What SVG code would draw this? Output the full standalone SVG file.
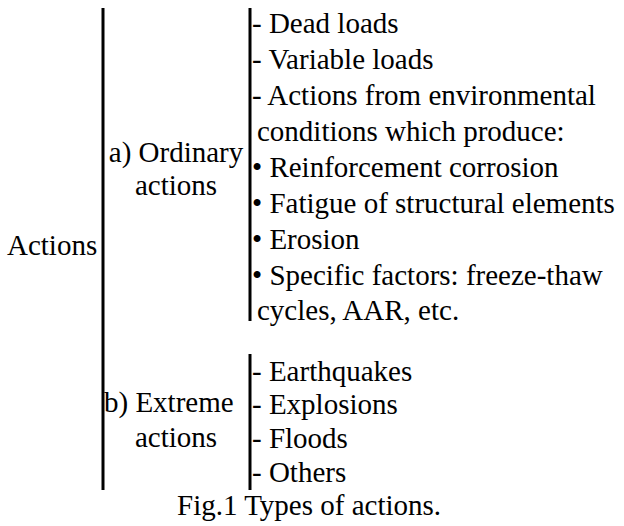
<svg xmlns="http://www.w3.org/2000/svg" width="624" height="526" viewBox="0 0 624 526">
<style>
text{font-family:"Liberation Serif","Times New Roman","DejaVu Serif",serif;font-size:29px;fill:#000;font-style:normal;font-weight:normal}
.bar{stroke:#000;stroke-width:3;fill:none}
</style>
<rect width="624" height="526" fill="#fff"/>
<g id="connectors">
<line class="bar" x1="103" y1="8" x2="103" y2="490"/>
<line class="bar" x1="250" y1="8" x2="250" y2="321"/>
<line class="bar" x1="250" y1="354" x2="250" y2="490"/>
</g>
<g id="root"><text x="7" y="255">Actions</text></g>
<g id="ordinary"><text x="176" y="162" text-anchor="middle">a) Ordinary</text><text x="176" y="195" text-anchor="middle">actions</text></g>
<g id="extreme"><text x="104" y="412">b) Extreme</text><text x="176" y="447" text-anchor="middle">actions</text></g>
<g id="ordinary-list">
<text x="252" y="33">- Dead loads</text>
<text x="252" y="69">- Variable loads</text>
<text x="252" y="105">- Actions from environmental</text>
<text x="257" y="141">conditions which produce:</text>
<text x="252" y="177">• Reinforcement corrosion</text>
<text x="252" y="213">• Fatigue of structural elements</text>
<text x="252" y="249">• Erosion</text>
<text x="252" y="285">• Specific factors: freeze-thaw</text>
<text x="257" y="320">cycles, AAR, etc.</text>
</g>
<g id="extreme-list">
<text x="252" y="381">- Earthquakes</text>
<text x="252" y="414">- Explosions</text>
<text x="252" y="448">- Floods</text>
<text x="252" y="482">- Others</text>
</g>
<g id="caption"><text x="177" y="515">Fig.1 Types of actions.</text></g>
</svg>
